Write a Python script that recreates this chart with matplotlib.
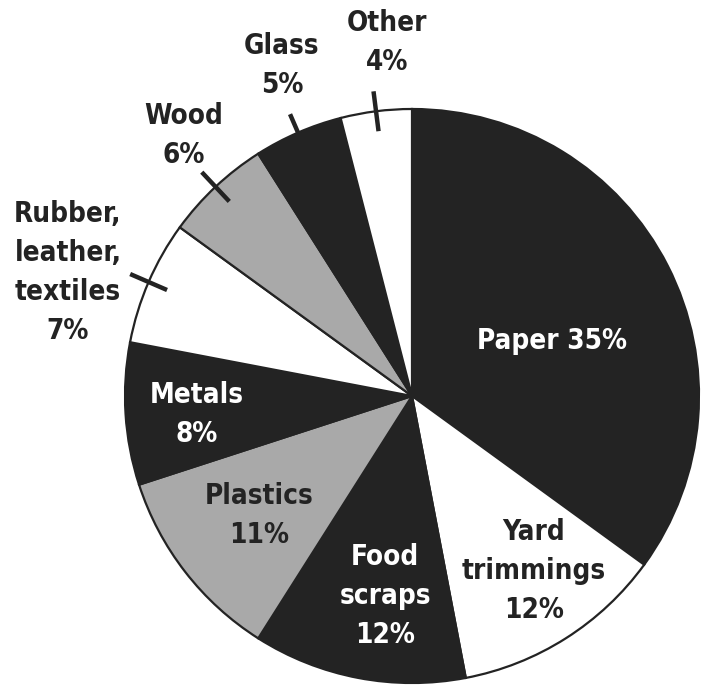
import matplotlib.pyplot as plt
import numpy as np

# data
labels = ["Paper 35%", "Yard\ntrimmings\n12%", "Food\nscraps\n12%", "Plastics\n11%",
          "Metals\n8%", "Rubber,\nleather,\ntextiles\n7%", "Wood\n6%", "Glass\n5%", "Other\n4%"]
shares = [35, 12, 12, 11, 8, 7, 6, 5, 4]
DARK = "#232323"
GRAY = "#a9a9a9"
colors = [DARK, "white", DARK, GRAY, DARK, "white", GRAY, DARK, "white"]
text_colors = ["white", DARK, "white", DARK, "white", DARK, DARK, DARK, DARK]
# label positions (pie radius = 1)
label_pos = [(0.488, 0.192), (0.425, -0.610), (-0.094, -0.697), (-0.533, -0.415),
             (-0.749, -0.066), (-1.199, 0.429), (-0.794, 0.909), (-0.453, 1.150),
             (-0.087, 1.233)]
# slices with a leader tick on the rim
ticked = [5, 6, 7, 8]

fig = plt.figure(figsize=(7.02, 6.87), dpi=100)
ax = fig.add_axes([0, 0, 1, 1])

wedges, _ = ax.pie(shares, colors=colors, startangle=90, counterclock=False,
                   radius=1, wedgeprops=dict(edgecolor=DARK, linewidth=1.6))

# leader ticks across the rim
for i in ticked:
    w = wedges[i]
    mid = np.deg2rad((w.theta1 + w.theta2) / 2)
    r = np.array([0.93, 1.07])
    ax.plot(r * np.cos(mid), r * np.sin(mid), color=DARK, lw=3.2, solid_capstyle="butt")

for lab, (x, y), c in zip(labels, label_pos, text_colors):
    ax.text(x, y, lab, ha="center", va="center", color=c, fontsize=20,
            fontweight="bold", fontstretch="condensed", family="DejaVu Sans",
            linespacing=1.5)

ax.set_xlim(-412 / 287, 290 / 287)
ax.set_ylim(-291 / 287, 396 / 287)
ax.set_aspect("equal")
ax.axis("off")

plt.savefig("out.png", dpi=100)
